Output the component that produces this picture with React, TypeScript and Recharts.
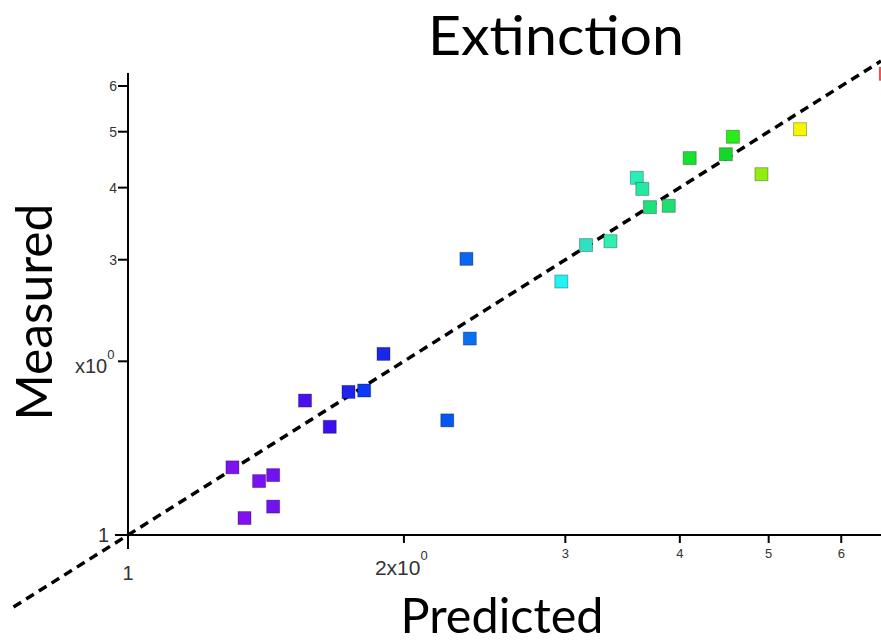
import React from "react";
import { ScatterChart, Scatter, XAxis, YAxis, Cell, ReferenceLine } from "recharts";

const predicted = [1.30, 1.39, 1.44, 1.44, 1.34, 1.56, 1.66, 1.74, 1.81, 1.90, 2.23, 2.34, 2.36, 2.97, 3.16, 3.36, 3.59, 3.64, 3.71, 3.89, 4.10, 4.49, 4.57, 4.91, 5.41, 6.71];
const measured = [1.31, 1.24, 1.27, 1.12, 1.07, 1.71, 1.54, 1.77, 1.78, 2.06, 1.58, 3.01, 2.19, 2.75, 3.18, 3.23, 4.16, 3.98, 3.70, 3.72, 4.50, 4.57, 4.90, 4.22, 5.05, 6.30];
const pointColors = [
  "#7d12ef", "#7a10f5", "#7012f2", "#7012f2", "#8010f0", "#4a0ff0", "#3a10ec", "#1e22f0",
  "#0a3af5", "#1828e6", "#0656f0", "#0a64f0", "#0a70f0", "#22f2f2", "#30e0c0", "#2ef0b0",
  "#2aeeb8", "#22eaa0", "#1ee07c", "#1ee070", "#18e030", "#14d828", "#28ee18", "#90ee10",
  "#f6f600", "#ff5050",
];
const tickValues = [1, 2, 3, 4, 5, 6];
const identityLine = [0.75, 6.63];
const titleText = "Extinction";
const xLabelText = "Predicted";
const yLabelText = "Measured";

const data = predicted.map((p, i) => ({ predicted: p, measured: measured[i] }));

const tickFont = "'Liberation Sans', Arial, sans-serif";
const titleFont = "Lato, 'Open Sans', sans-serif";

const XTick = (props: any) => {
  const { x, y, payload } = props;
  const v = payload.value;
  const tickLen = v === 1 ? 14 : 8;
  let label: React.ReactNode;
  if (v === 1) {
    label = (
      <text x={x} y={y + 45} textAnchor="middle" fontSize={20} fill="#333" fontFamily={tickFont}>1</text>
    );
  } else if (v === 2) {
    label = (
      <text x={x - 29} y={y + 40} textAnchor="start" fontSize={21} fill="#333" fontFamily={tickFont}>
        2x10<tspan dy={-15} fontSize={13}>0</tspan>
      </text>
    );
  } else {
    label = (
      <text x={x} y={y + 23} textAnchor="middle" fontSize={13} fill="#333" fontFamily={tickFont}>{v}</text>
    );
  }
  return (
    <g>
      <line x1={x} x2={x} y1={y} y2={y + tickLen} stroke="#000" strokeWidth={2} />
      {label}
    </g>
  );
};

const YTick = (props: any) => {
  const { x, y, payload } = props;
  const v = payload.value;
  const tickLen = v === 1 ? 13 : 10;
  let label: React.ReactNode;
  if (v === 1) {
    label = (
      <text x={x - 19} y={y + 7} textAnchor="end" fontSize={20} fill="#333" fontFamily={tickFont}>1</text>
    );
  } else if (v === 2) {
    label = (
      <text x={x - 53} y={y + 12} textAnchor="start" fontSize={20} fill="#333" fontFamily={tickFont}>
        x10<tspan dy={-14} fontSize={13}>0</tspan>
      </text>
    );
  } else {
    label = (
      <text x={x - 11} y={y + 5} textAnchor="end" fontSize={14} fill="#333" fontFamily={tickFont}>{v}</text>
    );
  }
  return (
    <g>
      <line x1={x - tickLen} x2={x} y1={y} y2={y} stroke="#000" strokeWidth={2} />
      {label}
    </g>
  );
};

const SquareShape = (props: any) => {
  const { cx, cy, fill } = props;
  const s = 13;
  return (
    <rect x={cx - s / 2} y={cy - s / 2} width={s} height={s} fill={fill} stroke="rgba(0,0,0,0.3)" strokeWidth={1} />
  );
};

export default function App() {
  return (
    <div style={{ position: "absolute", left: 0, top: 0, background: "#fff" }}>
      <ScatterChart width={881} height={642} margin={{ top: 73, right: 0, bottom: 0, left: 0 }}>
        <XAxis
          type="number"
          dataKey="predicted"
          scale="log"
          domain={[1, 6.63]}
          allowDataOverflow
          ticks={tickValues}
          height={107}
          tickSize={0}
          tickMargin={0}
          tickLine={false}
          axisLine={{ stroke: "#000", strokeWidth: 2 }}
          tick={<XTick />}
          interval={0}
        />
        <YAxis
          type="number"
          dataKey="measured"
          scale="log"
          domain={[1, 6.32]}
          ticks={tickValues}
          width={128}
          tickSize={0}
          tickMargin={0}
          tickLine={false}
          axisLine={{ stroke: "#000", strokeWidth: 2 }}
          tick={<YTick />}
          interval={0}
        />
        <ReferenceLine
          segment={[
            { x: identityLine[0], y: identityLine[0] },
            { x: identityLine[1], y: identityLine[1] },
          ]}
          ifOverflow="visible"
          stroke="#000"
          strokeWidth={3.5}
          strokeDasharray="9 6"
        />
        <Scatter data={data} shape={<SquareShape />} isAnimationActive={false}>
          {data.map((_, i) => (
            <Cell key={i} fill={pointColors[i]} />
          ))}
        </Scatter>
        <text x={556} y={55} textAnchor="middle" fontSize={54} fill="#000" fontFamily={titleFont} textLength={256} lengthAdjust="spacingAndGlyphs">
          {titleText}
        </text>
        <text x={502} y={633} textAnchor="middle" fontSize={49} fill="#000" fontFamily={titleFont} textLength={203} lengthAdjust="spacingAndGlyphs">
          {xLabelText}
        </text>
        <text x={0} y={0} transform="translate(52,312) rotate(-90)" textAnchor="middle" fontSize={50} fill="#000" fontFamily={titleFont} textLength={217} lengthAdjust="spacingAndGlyphs">
          {yLabelText}
        </text>
      </ScatterChart>
    </div>
  );
}
